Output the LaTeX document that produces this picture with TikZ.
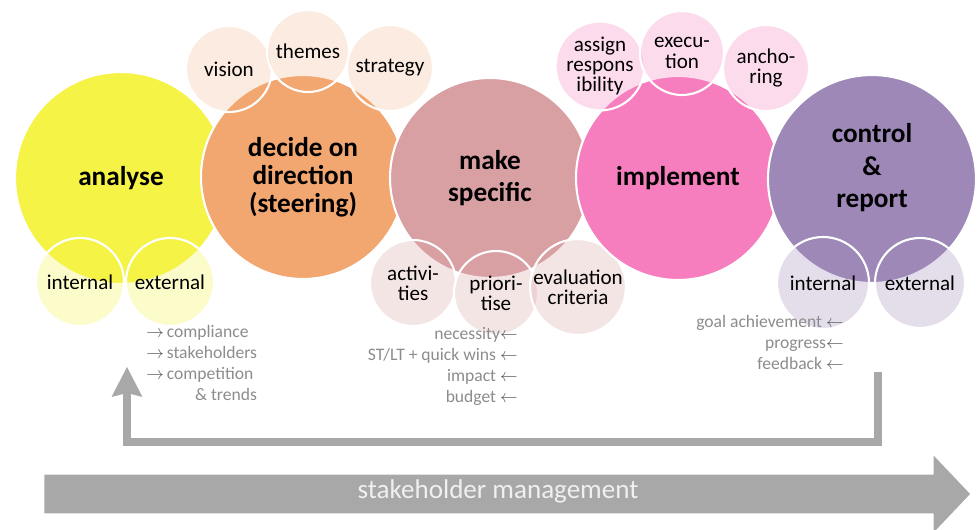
\documentclass[tikz,border=0pt]{standalone}
\usepackage{fontspec}
\setmainfont{Carlito}
\usepackage{tikz}
\usetikzlibrary{shapes.arrows,arrows.meta}

\definecolor{anayellow}{RGB}{245,243,70}
\definecolor{decorange}{RGB}{242,166,112}
\definecolor{makrose}{RGB}{217,160,163}
\definecolor{imppink}{RGB}{246,126,190}
\definecolor{conpurple}{RGB}{157,136,184}
\definecolor{notegray}{RGB}{140,140,140}
\definecolor{flowgray}{RGB}{168,168,168}

\newcommand{\pxu}{0.02cm}
\newcommand{\toarr}{\textcolor{black!65}{$\rightarrow$}}
\newcommand{\fromarr}{\textcolor{black!65}{$\leftarrow$}}

\begin{document}
\begin{tikzpicture}[
    x=\pxu, y=-\pxu,
    stage/.style={circle, draw=white, line width=1.2pt, inner sep=0pt, align=center, font=\bfseries\fontsize{15.5}{18.5}\selectfont},
    sub/.style={circle, draw=white, line width=1.2pt, inner sep=0pt, align=center, fill opacity=0.28, text opacity=1, font=\fontsize{12}{11.5}\selectfont},
    note/.style={inner sep=0pt, text=notegray, font=\fontsize{10}{11.9}\selectfont},
    flow/.style={draw=flowgray, line width=4.5pt, -{Stealth[width=0.62cm, length=0.6cm, inset=0.08cm, line width=0pt]}},
]
    \useasboundingbox (0,0) rectangle (978,530);

    % analyse
    \node[stage, fill=anayellow, minimum size=212*\pxu] (ana) at (121,178) {analyse};
    \node[sub, fill=anayellow, minimum size=88*\pxu] (anaint) at (80,282) {internal};
    \node[sub, fill=anayellow, minimum size=88*\pxu] (anaext) at (170,282) {external};

    % decide on direction
    \node[stage, fill=decorange, minimum size=204*\pxu, font=\bfseries\fontsize{15.5}{16}\selectfont] (dec) at (303,177) {decide on\\direction\\(steering)};
    \node[sub, fill=decorange, fill opacity=0.22, minimum size=86*\pxu] (vis) at (229,69) {vision};
    \node[sub, fill=decorange, fill opacity=0.22, minimum size=82*\pxu] (thm) at (308,51) {themes};
    \node[sub, fill=decorange, fill opacity=0.22, minimum size=86*\pxu] (str) at (390,68) {strategy};

    % make specific
    \node[stage, fill=makrose, minimum size=200*\pxu] (mak) at (490,178) {make\\specific};
    \node[sub, fill=makrose, minimum size=86*\pxu] (act) at (413,283) {activi-\\ties};
    \node[sub, fill=makrose, minimum size=84*\pxu] (pri) at (496,293) {priori-\\tise};
    \node[sub, fill=makrose, minimum size=88*\pxu] (eva) at (578,287) {evaluation\\criteria};

    % implement
    \node[stage, fill=imppink, minimum size=204*\pxu] (imp) at (678,178) {implement};
    \node[sub, fill=imppink, minimum size=88*\pxu] (asg) at (600,66) {assign\\respons\\ibility};
    \node[sub, fill=imppink, minimum size=84*\pxu] (exe) at (682,53) {execu-\\tion};
    \node[sub, fill=imppink, minimum size=86*\pxu] (anc) at (766,68) {ancho-\\ring};

    % control & report (deeper text box lifts the three lines)
    \node[stage, fill=conpurple, minimum size=208*\pxu, text depth=15pt] (con) at (872,179) {control\\\&\\report};
    \node[sub, fill=conpurple, minimum size=92*\pxu] (conint) at (823,283) {internal};
    \node[sub, fill=conpurple, minimum size=90*\pxu] (conext) at (920,283) {external};

    % notes under the small circles
    \node[note, anchor=north west] (extnotes) at (146,323) {%
        \begin{tabular}{@{}l@{\,}l@{}}
        \toarr & compliance\\
        \toarr & stakeholders\\
        \toarr & competition\\
               & \hfill\& trends
        \end{tabular}};
    \node[note, anchor=north east, align=right] (prinotes) at (518,327) {necessity\fromarr\\ST/LT + quick wins \fromarr\\impact \fromarr\\budget \fromarr};
    \node[note, anchor=north east, align=right] (connotes) at (844,315) {goal achievement \fromarr\\progress\fromarr\\feedback \fromarr};

    % feedback loop and the stakeholder arrow
    \coordinate (fbstart) at (878,372);
    \coordinate (fbend) at (127,367);
    \draw[flow] (fbstart) -- ++(0,70) -| (fbend);

    \node[single arrow, fill=flowgray, minimum height=18.52cm, minimum width=1.52cm,
          single arrow head extend=0.38cm, single arrow tip angle=93,
          inner xsep=0pt, inner ysep=0.22cm, text height=0.25cm, text depth=0.07cm,
          text=white!94!black, font=\fontsize{15.4}{16}\selectfont] (mgmt) at (498,494) {stakeholder management};
\end{tikzpicture}
\end{document}
